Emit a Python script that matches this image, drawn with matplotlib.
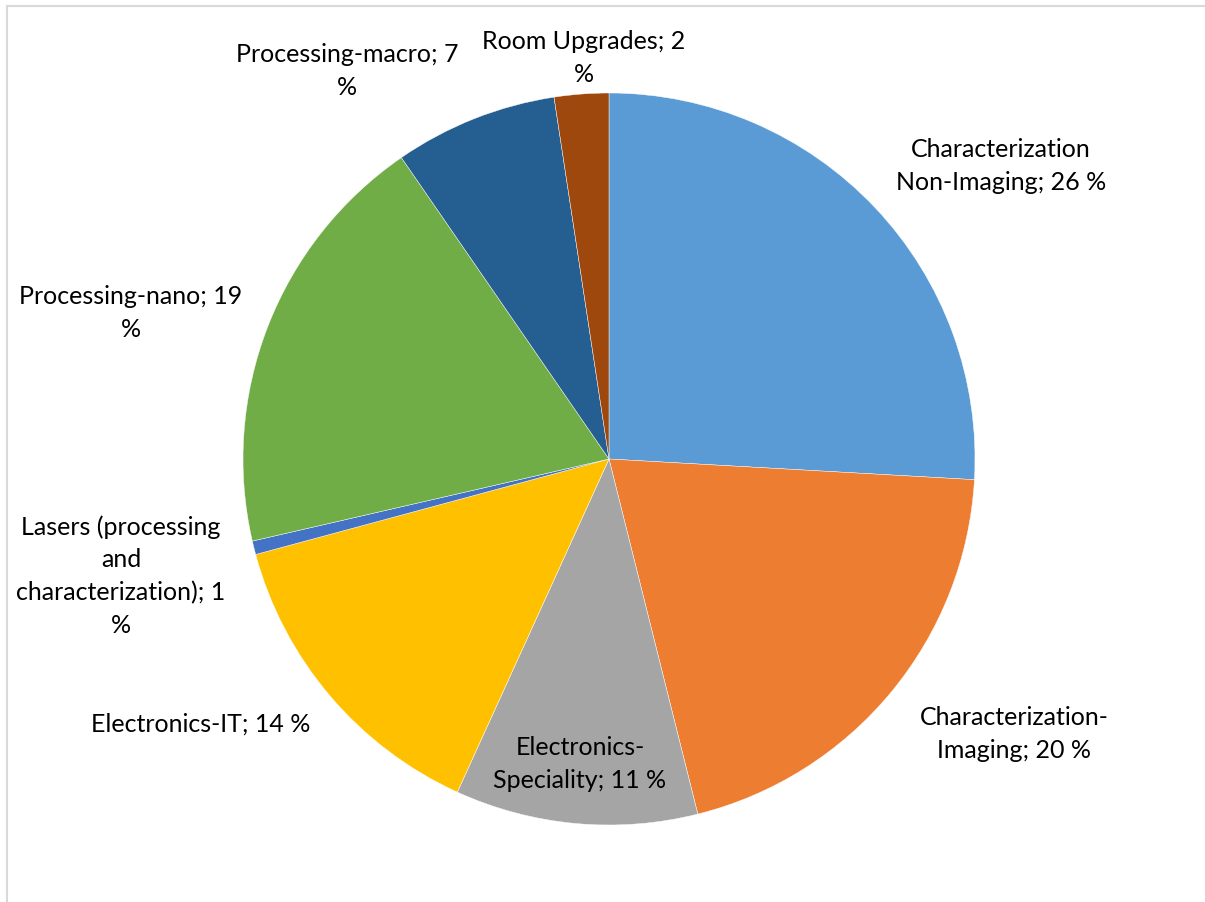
import matplotlib
matplotlib.use("Agg")
import matplotlib.pyplot as plt
from matplotlib.lines import Line2D

categories = ["Characterization Non-Imaging", "Characterization-Imaging",
              "Electronics-Speciality", "Electronics-IT",
              "Lasers (processing and characterization)", "Processing-nano",
              "Processing-macro", "Room Upgrades"]
values = [25.9, 20.2, 10.7, 14.0, 0.6, 19.0, 7.2, 2.4]
label_texts = ["Characterization\nNon-Imaging; 26 %",
               "Characterization-\nImaging; 20 %",
               "Electronics-\nSpeciality; 11 %",
               "Electronics-IT; 14 %",
               "Lasers (processing\nand\ncharacterization); 1\n%",
               "Processing-nano; 19\n%",
               "Processing-macro; 7\n%",
               "Room Upgrades; 2\n%"]
colors = ["#5B9BD5", "#ED7D31", "#A5A5A5", "#FFC000",
          "#4472C4", "#70AD47", "#255E91", "#9E480E"]

W, H = 1205, 903
fig = plt.figure(figsize=(W / 100, H / 100), dpi=100)
ax = fig.add_axes([0, 0, 1, 1])
ax.pie(values, colors=colors, startangle=90, counterclock=False,
       center=(609, H - 460), radius=366,
       wedgeprops=dict(edgecolor="white", linewidth=0.3))
ax.set_xlim(0, W)
ax.set_ylim(0, H)
ax.set_aspect("equal")
ax.axis("off")

# label positions (pixel coords of text block centre)
label_pos = [(1001, 166), (1014, 734), (580, 764), (201, 724),
             (121, 576), (131, 313), (347, 71), (584, 58)]
for txt, (x, y) in zip(label_texts, label_pos):
    ax.text(x, H - y, txt, ha="center", va="center", fontsize=18,
            family="Lato", color="#000000", linespacing=1.5,
            multialignment="center")

# chart border (light gray, only top and left visible)
fig.add_artist(Line2D([7 / W, 7 / W], [0, 1 - 7 / H], transform=fig.transFigure,
                      color="#D9D9D9", linewidth=1.5))
fig.add_artist(Line2D([7 / W, 1], [1 - 7 / H, 1 - 7 / H], transform=fig.transFigure,
                      color="#D9D9D9", linewidth=1.5))

fig.savefig("out.png", dpi=100, facecolor="white")
